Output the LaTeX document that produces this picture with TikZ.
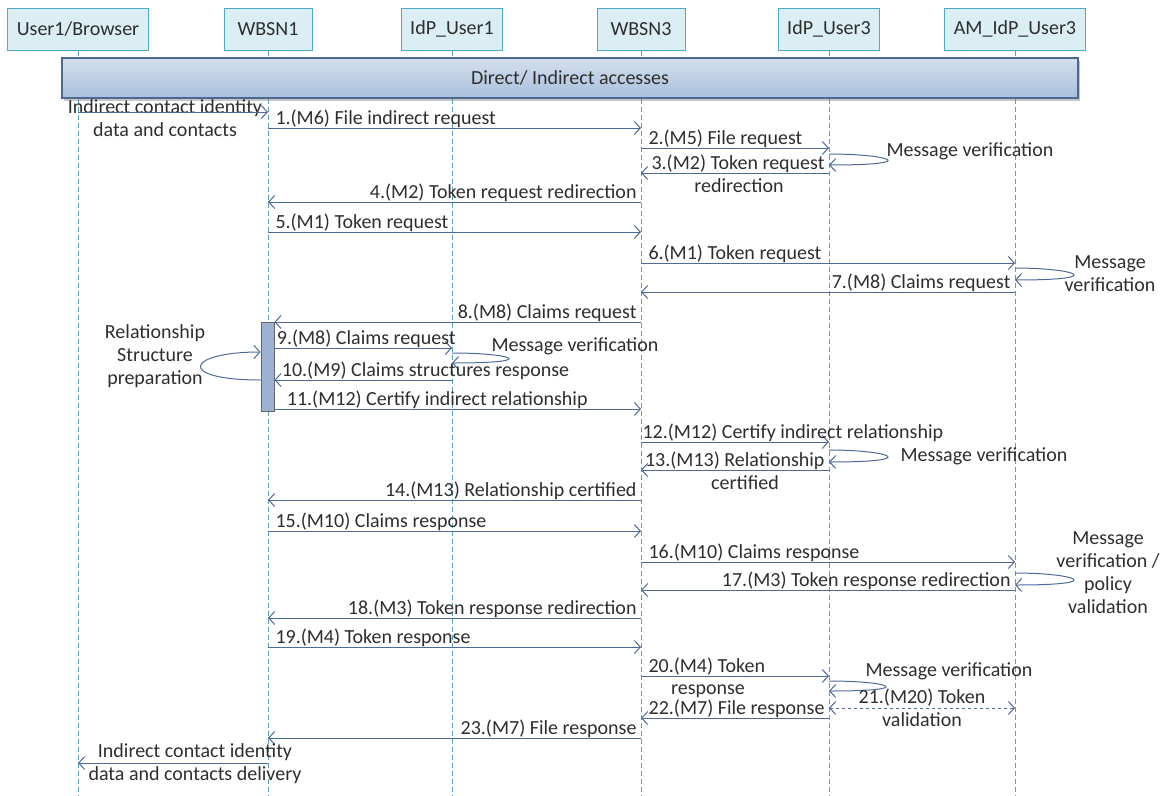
\documentclass[tikz,border=0pt]{standalone}
\usepackage{fontspec}
\setmainfont{Carlito}
\usetikzlibrary{arrows.meta,shadows}

\definecolor{lifeclr}{HTML}{5A9FB8}
\definecolor{msgclr}{HTML}{4D6A9C}
\definecolor{txtclr}{HTML}{2E2E2E}
\definecolor{hdrfill}{HTML}{DAEEF3}
\definecolor{hdrline}{HTML}{4BACC6}
\definecolor{barline}{HTML}{4A6890}
\definecolor{barhi}{HTML}{D3DFEE}
\definecolor{barlo}{HTML}{A9BFDC}
\definecolor{actfill}{HTML}{9DB1D3}

\begin{document}
\begin{tikzpicture}[x=1pt,y=-1pt,
  font=\fontsize{20}{23}\selectfont, text=txtclr,
  hdr/.style={draw=hdrline, fill=hdrfill, line width=1pt, minimum height=42pt, minimum width=88pt, inner xsep=9pt},
  life/.style={draw=lifeclr, dash pattern=on 5pt off 3pt, line width=0.8pt},
  bar/.style={draw=barline, line width=1.2pt, top color=barhi, bottom color=barlo, minimum width=1016pt, minimum height=40pt, drop shadow={shadow xshift=2pt, shadow yshift=-3pt, opacity=0.45}},
  act/.style={draw=black!60, fill=actfill, line width=0.8pt, minimum width=13pt, minimum height=89pt, inner sep=0pt},
  msg/.style={draw=msgclr, line width=1pt, -{Straight Barb[length=6pt,width=13pt]}},
  ret/.style={msg, dashed, {Straight Barb[length=6pt,width=13pt]}-{Straight Barb[length=6pt,width=13pt]}},
  lblr/.style={anchor=base west, yshift=4pt, xshift=6pt, inner sep=1pt},
  lbll/.style={anchor=base east, yshift=4pt, xshift=-3pt, inner sep=1pt},
  sub/.style={midway, below, inner sep=1pt, yshift=-4pt},
  note/.style={align=center, inner sep=1pt}]
\useasboundingbox (0,0) rectangle (1167,795);

% participants
\node[hdr] (user) at (78,29) {User1/Browser};
\node[hdr] (wbsna) at (268,29) {WBSN1};
\node[hdr] (idpa) at (452,29) {IdP\_User1};
\node[hdr] (wbsnc) at (641,29) {WBSN3};
\node[hdr] (idpc) at (829,29) {IdP\_User3};
\node[hdr] (amc) at (1015,29) {AM\_IdP\_User3};
\foreach \n in {user,wbsna,idpa,wbsnc,idpc,amc}
  \draw[life] (\n.south) -- (\n |- 0,795);

\node[bar] (acc) at (570,78) {Direct/ Indirect accesses};

% activation on WBSN1
\node[act] (act) at (267.5,366.5) {};

% messages
\node[note] (reqtxt) at (165,118) {Indirect contact identity\\data and contacts};
\draw[msg] (user |- 0,112) -- (wbsna |- 0,112);
\draw[msg] (wbsna |- 0,128) -- (wbsnc |- 0,128) node[pos=0, lblr] {1.(M6) File indirect request};
\draw[msg] (wbsnc |- 0,148) -- (idpc |- 0,148) node[pos=0, lblr] {2.(M5) File request};
\draw[msg] (idpc |- 0,154) .. controls +(60,0) and +(95,0) .. (idpc |- 0,165);
\node[anchor=west] (vrfa) at (883,151) {Message verification};
\draw[msg] (idpc |- 0,173) -- node[sub, xshift=4pt] {redirection} (wbsnc |- 0,173) node[pos=0, lbll] {3.(M2) Token request};
\draw[msg] (wbsnc |- 0,202) -- (wbsna |- 0,202) node[pos=0, lbll] {4.(M2) Token request redirection};
\draw[msg] (wbsna |- 0,232) -- (wbsnc |- 0,232) node[pos=0, lblr] {5.(M1) Token request};
\draw[msg] (wbsnc |- 0,263) -- (amc |- 0,263) node[pos=0, lblr] {6.(M1) Token request};
\draw[msg] (amc |- 0,268) .. controls +(60,0) and +(95,0) .. (amc |- 0,280);
\node[note] (vrfb) at (1110,274) {Message\\verification};
\draw[msg] (amc |- 0,292) -- (wbsnc |- 0,292) node[pos=0, lbll] {7.(M8) Claims request};
\draw[msg] (wbsnc |- 0,322) -- (act.east |- 0,322) node[pos=0, lbll] {8.(M8) Claims request};
\draw[msg] (act.east |- 0,348) -- (idpa |- 0,348) node[pos=0, lblr, xshift=-5pt] {9.(M8) Claims request};
\draw[msg] (idpa |- 0,353) .. controls +(60,0) and +(90,0) .. (idpa |- 0,363);
\node[anchor=west] (vrfc) at (488,346) {Message verification};
\draw[msg] (act.west |- 0,380) .. controls +(-85,0) and +(-75,0) .. (act.west |- 0,352);
\node[note] (prep) at (155,356) {Relationship\\Structure\\preparation};
\draw[msg] (idpa |- 0,380) -- (act.east |- 0,380) node[pos=1, lblr] {10.(M9) Claims structures response};
\draw[msg] (act.east |- 0,409) -- (wbsnc |- 0,409) node[pos=0, lblr, xshift=5pt] {11.(M12) Certify indirect relationship};
\draw[msg] (wbsnc |- 0,442) -- (idpc |- 0,442) node[pos=0, lblr, xshift=-6pt] {12.(M12) Certify indirect relationship};
\draw[msg] (idpc |- 0,450) .. controls +(60,0) and +(95,0) .. (idpc |- 0,462);
\node[anchor=west] (vrfd) at (897,456) {Message verification};
\draw[msg] (idpc |- 0,470) -- node[sub, xshift=10pt] {certified} (wbsnc |- 0,470) node[pos=0, lbll] {13.(M13) Relationship};
\draw[msg] (wbsnc |- 0,500) -- (wbsna |- 0,500) node[pos=0, lbll] {14.(M13) Relationship certified};
\draw[msg] (wbsna |- 0,531) -- (wbsnc |- 0,531) node[pos=0, lblr] {15.(M10) Claims response};
\draw[msg] (wbsnc |- 0,562) -- (amc |- 0,562) node[pos=0, lblr] {16.(M10) Claims response};
\draw[msg] (amc |- 0,573) .. controls +(60,0) and +(95,0) .. (amc |- 0,585);
\node[note] (vrfe) at (1108,573) {Message\\verification /\\policy\\validation};
\draw[msg] (amc |- 0,590) -- (wbsnc |- 0,590) node[pos=0, lbll] {17.(M3) Token response redirection};
\draw[msg] (wbsnc |- 0,618) -- (wbsna |- 0,618) node[pos=0, lbll] {18.(M3) Token response redirection};
\draw[msg] (wbsna |- 0,647) -- (wbsnc |- 0,647) node[pos=0, lblr] {19.(M4) Token response};
\draw[msg] (wbsnc |- 0,676) -- node[sub, xshift=-27pt, yshift=-3pt] {response} (idpc |- 0,676) node[pos=0, lblr] {20.(M4) Token};
\draw[msg] (idpc |- 0,681) .. controls +(60,0) and +(90,0) .. (idpc |- 0,691);
\node[anchor=west] (vrff) at (862,671) {Message verification};
\draw[ret] (idpc |- 0,708) -- node[midway, above, inner sep=1pt] {21.(M20) Token} node[sub, yshift=1pt] {validation} (amc |- 0,708);
\draw[msg] (idpc |- 0,718) -- (wbsnc |- 0,718) node[pos=0, lbll] {22.(M7) File response};
\draw[msg] (wbsnc |- 0,738) -- (wbsna |- 0,738) node[pos=0, lbll] {23.(M7) File response};
\draw[msg] (wbsna |- 0,763) -- (user |- 0,763);
\node[note] (resptxt) at (195,764) {Indirect contact identity\\data and contacts delivery};
\end{tikzpicture}
\end{document}
